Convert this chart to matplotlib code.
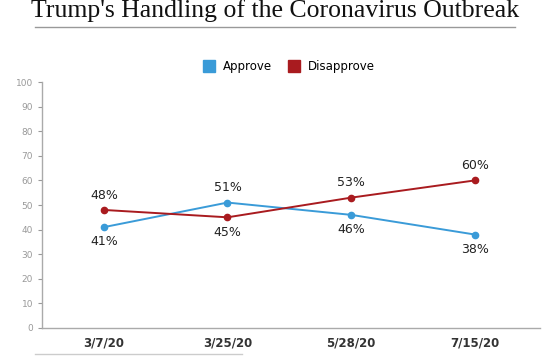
import matplotlib.pyplot as plt
from matplotlib.lines import Line2D

dates = ['3/7/20', '3/25/20', '5/28/20', '7/15/20']
approve = [41, 51, 46, 38]
disapprove = [48, 45, 53, 60]
blue = '#3a9bd8'
red = '#a91b1f'

fig = plt.figure(figsize=(5.5, 3.6), dpi=100)
ax = fig.add_axes([0.0764, 0.089, 0.906, 0.683])
x = list(range(len(dates)))
ax.plot(x, approve, color=blue, lw=1.4, marker='o', ms=4.5)
ax.plot(x, disapprove, color=red, lw=1.4, marker='o', ms=4.5)

for i in x:
    a, d = approve[i], disapprove[i]
    if a > d:
        ax.annotate(f'{a}%', (i, a), xytext=(0, 6), textcoords='offset points', ha='center', va='bottom', fontsize=9, color='#222')
        ax.annotate(f'{d}%', (i, d), xytext=(0, -6), textcoords='offset points', ha='center', va='top', fontsize=9, color='#222')
    else:
        ax.annotate(f'{d}%', (i, d), xytext=(0, 6), textcoords='offset points', ha='center', va='bottom', fontsize=9, color='#222')
        ax.annotate(f'{a}%', (i, a), xytext=(0, -6), textcoords='offset points', ha='center', va='top', fontsize=9, color='#222')

ax.set_xlim(-0.5, 3.53)
ax.set_ylim(0, 100)
ax.set_yticks(range(0, 101, 10))
ax.set_xticks(x)
ax.set_xticklabels(dates, fontsize=8.5, fontweight='bold', color='#333')
ax.tick_params(axis='y', labelsize=6.5, colors='#999', length=3, width=0.8)
ax.tick_params(axis='x', length=0, pad=6)
for s in ['top', 'right']:
    ax.spines[s].set_visible(False)
for s in ['left', 'bottom']:
    ax.spines[s].set_color('#aaa')
    ax.spines[s].set_linewidth(1)

handles = [Line2D([], [], marker='s', ls='', color=blue, ms=8),
           Line2D([], [], marker='s', ls='', color=red, ms=8)]
fig.legend(handles, ['Approve', 'Disapprove'], loc='center', bbox_to_anchor=(0.52, 0.815),
           ncol=2, frameon=False, fontsize=8.5, handletextpad=0.2, columnspacing=0.8)

fig.text(0.5, 0.97, "Trump's Handling of the Coronavirus Outbreak", ha='center', va='center',
         family='Liberation Serif', fontsize=18.5, color='#111')
fig.add_artist(Line2D([0.064, 0.936], [0.925, 0.925], color='#999', lw=1))
fig.add_artist(Line2D([0.064, 0.44], [0.017, 0.017], color='#ccc', lw=1))

fig.savefig('out.png', dpi=100)
